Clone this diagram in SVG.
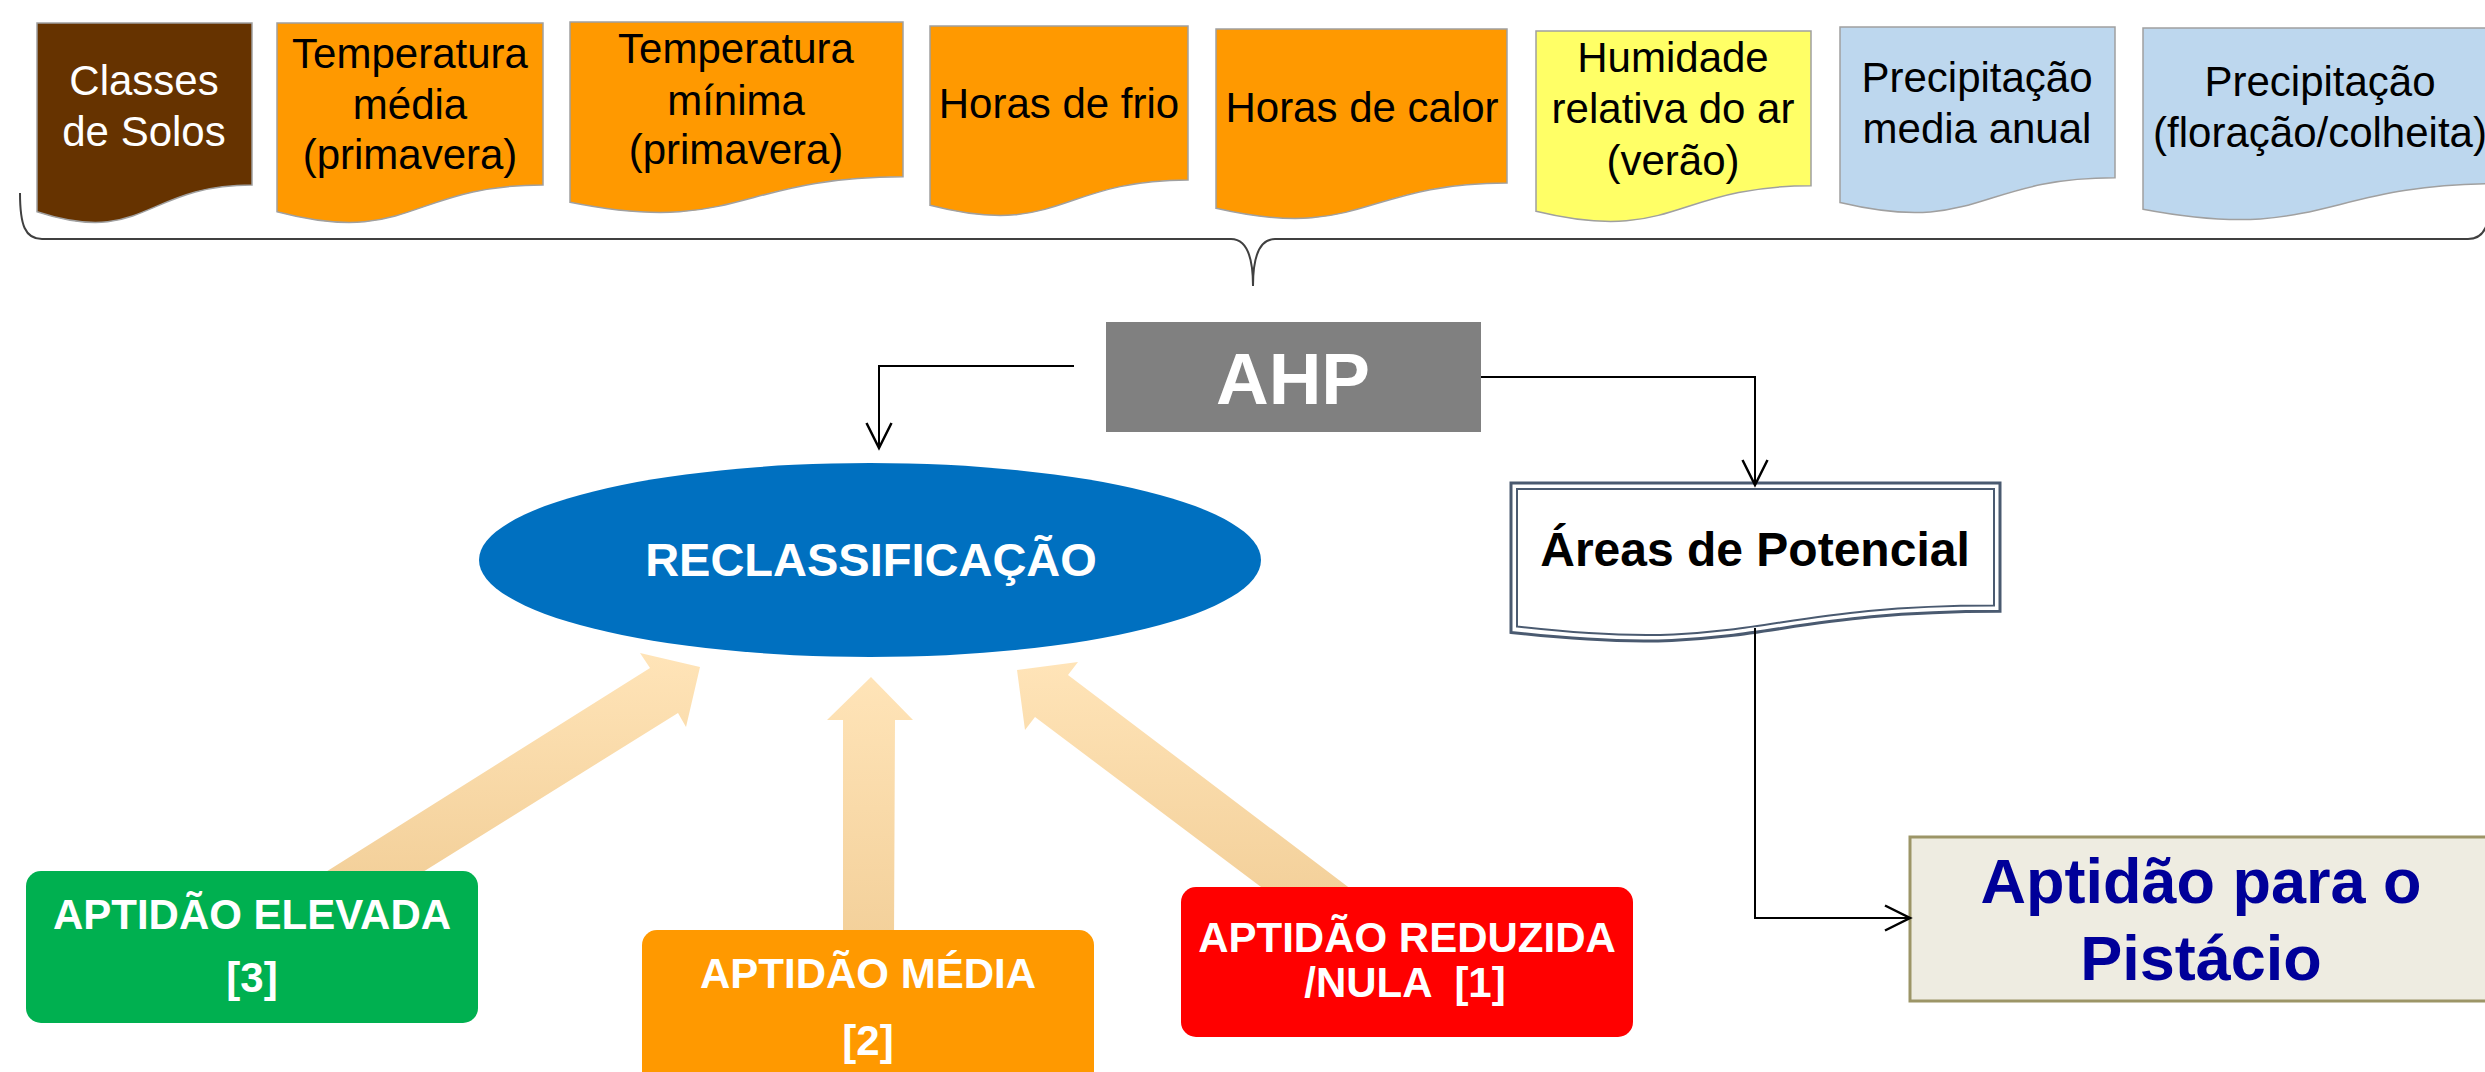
<svg xmlns="http://www.w3.org/2000/svg" width="2485" height="1072" viewBox="0 0 2485 1072">
<defs>
<style>
text{font-family:"Liberation Sans",Arial,sans-serif;text-anchor:middle}
.t{font-size:42px;fill:#000}
.doc{stroke:#A0A0A0;stroke-width:1.5}
.b{font-weight:bold;fill:#fff}
.con{fill:none;stroke:#000;stroke-width:2}
.fat{fill:url(#fg)}
</style>
<linearGradient id="fg" x1="0" y1="0" x2="0" y2="1">
<stop offset="0" stop-color="#FFE4B8"/>
<stop offset="1" stop-color="#F3D09A"/>
</linearGradient>
<marker id="ah" markerUnits="userSpaceOnUse" markerWidth="30" markerHeight="30" viewBox="-22 -12 24 24" refX="0" refY="0" orient="auto">
<path d="M-20,-10 L0,0 L-20,10" fill="none" stroke="#000" stroke-width="2"/>
</marker>
</defs>

<g id="brace">
<path d="M20,193 C20,225 25,239 42,239 H1231 C1246,239 1253,255 1253,286 C1253,255 1260,239 1275,239 H2468 C2485,239 2490,225 2490,193" fill="none" stroke="#404040" stroke-width="2"/>
</g>

<g id="n-classes">
<path class="doc" fill="#663300" d="M37,23 H252 V185 C144.5,185 144.5,246.7 37,211.7 Z"/>
<text class="t" x="144" y="95" style="fill:#fff">Classes</text>
<text class="t" x="144" y="146" style="fill:#fff">de Solos</text>
</g>
<g id="n-tmedia">
<path class="doc" fill="#FF9900" d="M277,23 H543 V185 C410,185 410,246.7 277,211.7 Z"/>
<text class="t" x="410" y="68">Temperatura</text>
<text class="t" x="410" y="119">média</text>
<text class="t" x="410" y="169">(primavera)</text>
</g>
<g id="n-tminima">
<path class="doc" fill="#FF9900" d="M570,22 H903 V176.8 C736.5,176.8 736.5,235.7 570,202.3 Z"/>
<text class="t" x="736" y="63">Temperatura</text>
<text class="t" x="736" y="115">mínima</text>
<text class="t" x="736" y="164">(primavera)</text>
</g>
<g id="n-frio">
<path class="doc" fill="#FF9900" d="M930,26 H1188 V180 C1059,180 1059,238.6 930,205.3 Z"/>
<text class="t" x="1059" y="118">Horas de frio</text>
</g>
<g id="n-calor">
<path class="doc" fill="#FF9900" d="M1216,29 H1507 V183 C1361.5,183 1361.5,241.6 1216,208.3 Z"/>
<text class="t" x="1362" y="122">Horas de calor</text>
</g>
<g id="n-humidade">
<path class="doc" fill="#FFFF66" d="M1536,31 H1811 V185.8 C1673.5,185.8 1673.5,244.7 1536,211.3 Z"/>
<text class="t" x="1673" y="72">Humidade</text>
<text class="t" x="1673" y="123">relativa do ar</text>
<text class="t" x="1673" y="175">(verão)</text>
</g>
<g id="n-precmedia">
<path class="doc" fill="#BDD7EE" d="M1840,27 H2115 V177.8 C1977.5,177.8 1977.5,235.2 1840,202.6 Z"/>
<text class="t" x="1977" y="92">Precipitação</text>
<text class="t" x="1977" y="143">media anual</text>
</g>
<g id="n-precflor">
<path class="doc" fill="#BDD7EE" d="M2143,28 H2500 V183.6 C2321.5,183.6 2321.5,242.9 2143,209.2 Z"/>
<text class="t" x="2320" y="96">Precipitação</text>
<text class="t" x="2320" y="147">(floração/colheita)</text>
</g>

<g id="fat-arrows">
<polygon class="fat" points="700,667 686,727 678,713 410,880 313,880 650,668 640,653"/>
<polygon class="fat" points="871,677 913,720 895,720 894,940 843,940 843,720 827,720"/>
<polygon class="fat" points="1017,670 1078,662 1068,675 1364,899 1277,899 1035,717 1025,730"/>
</g>

<g id="n-ahp">
<rect x="1106" y="322" width="375" height="110" fill="#808080"/>
<text class="b" x="1293" y="404" style="font-size:73px">AHP</text>
</g>

<g id="n-reclass">
<ellipse cx="870" cy="560" rx="391" ry="97" fill="#0070C0"/>
<text class="b" x="871" y="576" style="font-size:47px">RECLASSIFICAÇÃO</text>
</g>

<g id="n-areas">
<path d="M1511,483 H2000 V611.3 C1755.5,611.3 1755.5,660.2 1511,632.4 Z" fill="#fff" stroke="#4A5A70" stroke-width="3"/>
<path d="M1517,489 H1994 V605.5 C1755.5,605.5 1755.5,654 1517,626.5 Z" fill="none" stroke="#4A5A70" stroke-width="2"/>
<text x="1755" y="566" style="font-size:48px;font-weight:bold;fill:#000">Áreas de Potencial</text>
</g>

<g id="n-elevada">
<rect x="26" y="871" width="452" height="152" rx="15" fill="#00B050"/>
<text class="b" x="252" y="929" style="font-size:42px">APTIDÃO ELEVADA</text>
<text class="b" x="252" y="992" style="font-size:42px">[3]</text>
</g>
<g id="n-media">
<rect x="642" y="930" width="452" height="160" rx="15" fill="#FF9900"/>
<text class="b" x="868" y="988" style="font-size:42px">APTIDÃO MÉDIA</text>
<text class="b" x="868" y="1055" style="font-size:42px">[2]</text>
</g>
<g id="n-reduzida">
<rect x="1181" y="887" width="452" height="150" rx="15" fill="#FF0000"/>
<text class="b" x="1407" y="952" style="font-size:42px">APTIDÃO REDUZIDA</text>
<text class="b" x="1405" y="997" style="font-size:42px;white-space:pre">/NULA  [1]</text>
</g>

<g id="n-pistacio">
<rect x="1910" y="837" width="582" height="164" fill="#EEECE1" stroke="#9C9567" stroke-width="3"/>
<text x="2201" y="903" style="font-size:63px;font-weight:bold;fill:#000099">Aptidão para o</text>
<text x="2201" y="980" style="font-size:63px;font-weight:bold;fill:#000099">Pistácio</text>
</g>

<g id="connectors">
<path class="con" d="M1074,366 H879 V448" marker-end="url(#ah)"/>
<path class="con" d="M1481,377 H1755 V485" marker-end="url(#ah)"/>
<path class="con" d="M1755,628 V918 H1910" marker-end="url(#ah)"/>
</g>
</svg>
